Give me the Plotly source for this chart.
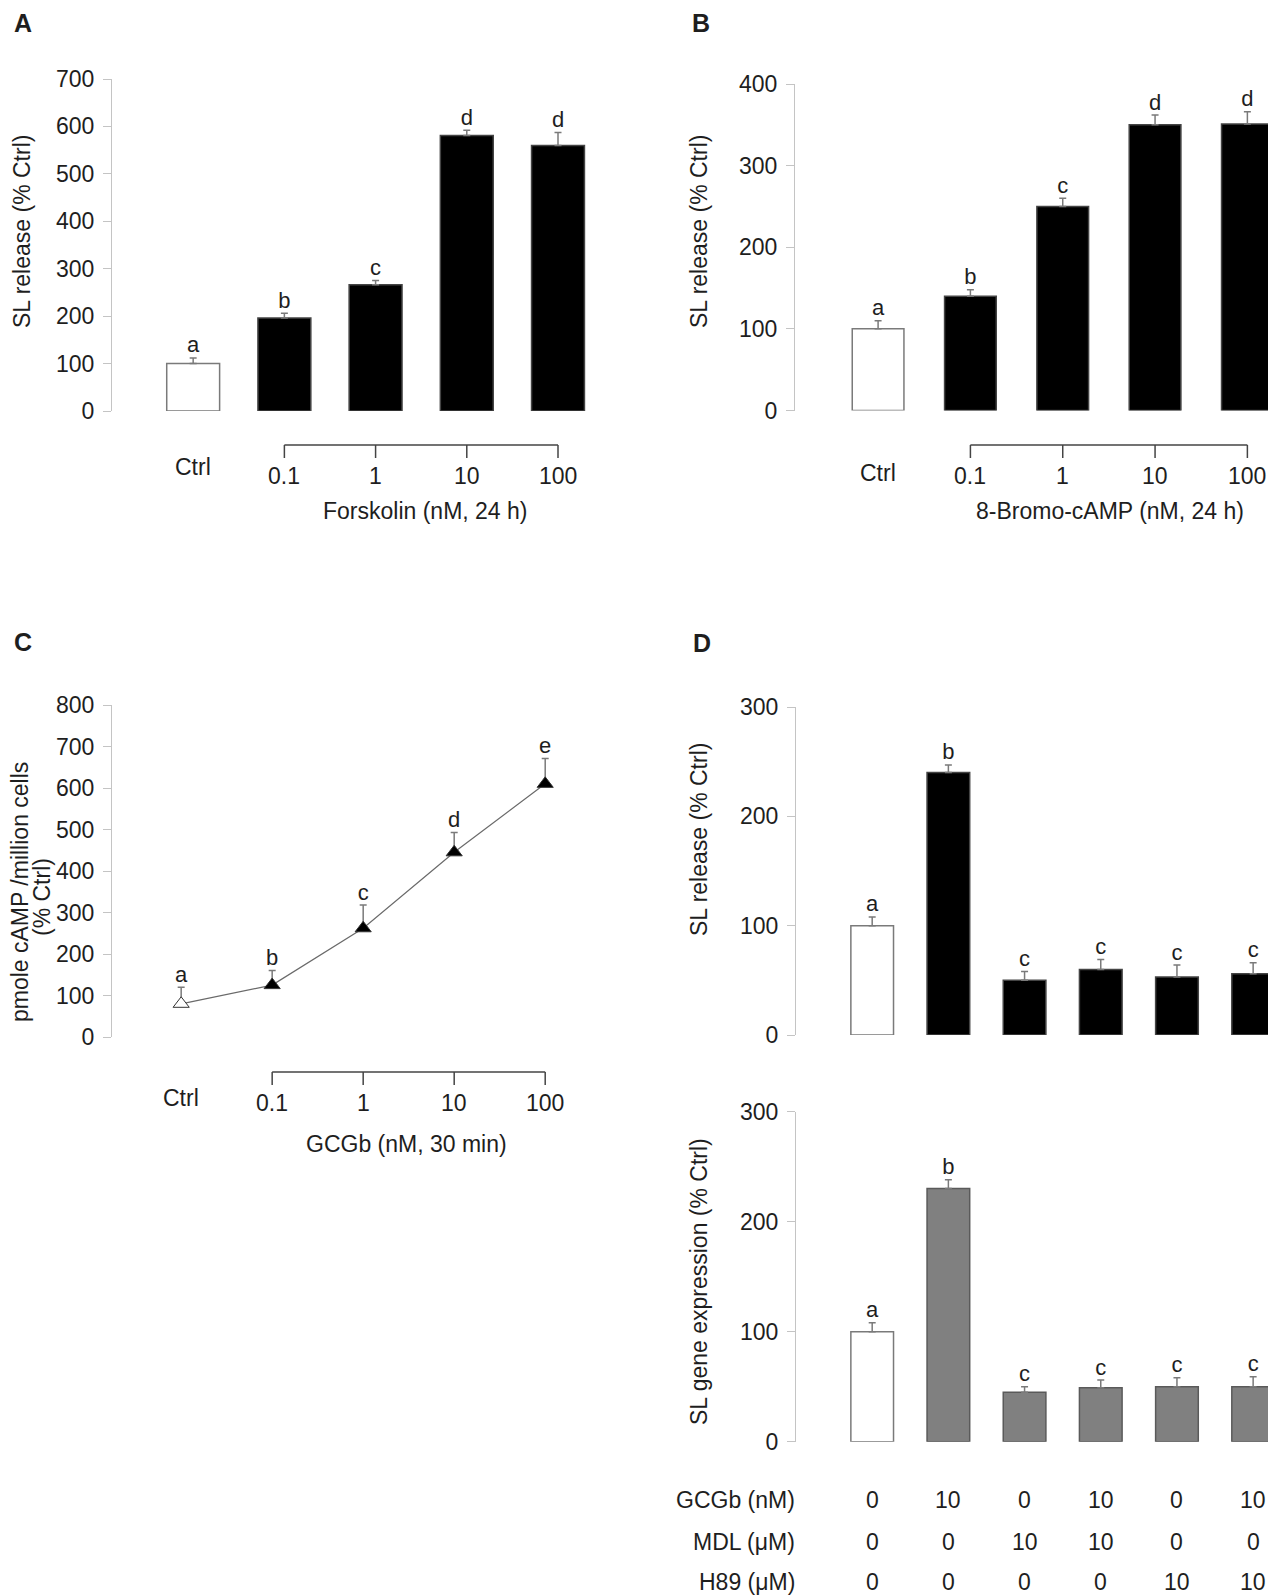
import plotly.graph_objects as go

# ---------------- data ----------------
# Panel A: forskolin
a_cats = ["Ctrl", "0.1", "1", "10", "100"]
a_vals = [100, 196, 266, 581, 560]
a_err = [12, 10, 9, 11, 27]
a_letters = ["a", "b", "c", "d", "d"]

# Panel B: 8-Bromo-cAMP
b_cats = ["Ctrl", "0.1", "1", "10", "100"]
b_vals = [100, 140, 250, 350, 351]
b_err = [10, 8, 10, 12, 15]
b_letters = ["a", "b", "c", "d", "d"]

# Panel C: cAMP vs GCGb
c_cats = ["Ctrl", "0.1", "1", "10", "100"]
c_vals = [80, 125, 262, 445, 610]
c_err = [40, 35, 56, 48, 61]
c_letters = ["a", "b", "c", "d", "e"]

# Panel D: treatments
gcgb = [0, 10, 0, 10, 0, 10]
mdl = [0, 0, 10, 10, 0, 0]
h89 = [0, 0, 0, 0, 10, 10]
d_cats = [f"{g}/{m}/{h}" for g, m, h in zip(gcgb, mdl, h89)]
d_rel_vals = [100, 240, 50, 60, 53, 56]
d_rel_err = [8, 7, 8, 9, 11, 10]
d_rel_letters = ["a", "b", "c", "c", "c", "c"]
d_exp_vals = [100, 230, 45, 49, 50, 50]
d_exp_err = [8, 8, 5, 7, 8, 9]
d_exp_letters = ["a", "b", "c", "c", "c", "c"]

W, H = 1276, 1595
OFF = 8  # page body margin
FONT = "Liberation Sans, Arial, sans-serif"
TXT = "#1e1e1e"
AXC = "#c4c4c4"
FS = 23


def px(x):
    return (x - OFF) / W


def py(y):
    return 1 - (y - OFF) / H


def yax(top, bottom, rng, dtick, anchor):
    return dict(domain=[py(bottom), py(top)], range=rng, dtick=dtick,
                showline=True, linecolor=AXC, linewidth=1.2,
                ticks="outside", ticklen=8, tickcolor=AXC, tickwidth=1.2,
                showgrid=False, zeroline=False, ticklabelstandoff=4,
                automargin=False, anchor=anchor,
                tickfont=dict(size=FS, color=TXT, family=FONT))


def xax(left, right, rng, anchor):
    return dict(domain=[px(left), px(right)], range=rng, type="category",
                showticklabels=False, showline=False, ticks="",
                showgrid=False, zeroline=False, automargin=False, anchor=anchor)


fig = go.Figure()


def add_bars(cats, vals, err, letters, colors, lines, xa, ya, width):
    fig.add_trace(go.Bar(
        x=cats, y=vals, xaxis=xa, yaxis=ya, width=width,
        marker=dict(color=colors, line=dict(color=lines, width=1.5)),
        error_y=dict(type="data", symmetric=False, array=err,
                     arrayminus=[0] * len(err), color="#7a7a7a",
                     thickness=1.5, width=3.5),
        showlegend=False))
    fig.add_trace(go.Scatter(
        x=cats, y=[v + e for v, e in zip(vals, err)], xaxis=xa, yaxis=ya,
        mode="text", text=letters, textposition="top center",
        textfont=dict(size=22, color=TXT, family=FONT), showlegend=False))


# A
add_bars(a_cats, a_vals, a_err, a_letters,
         ["white"] + ["black"] * 4, ["#7a7a7a"] + ["#444"] * 4, "x", "y", 0.58)
# B
add_bars(b_cats, b_vals, b_err, b_letters,
         ["white"] + ["black"] * 4, ["#7a7a7a"] + ["#444"] * 4, "x2", "y2", 0.56)
# C
fig.add_trace(go.Scatter(
    x=c_cats, y=c_vals, xaxis="x3", yaxis="y3", mode="lines+markers",
    line=dict(color="#6a6a6a", width=1.2),
    marker=dict(symbol="triangle-up", size=14,
                color=["white"] + ["black"] * 4,
                line=dict(color="#333", width=1)),
    error_y=dict(type="data", symmetric=False, array=c_err,
                 arrayminus=[0] * len(c_err), color="#7a7a7a",
                 thickness=1.5, width=3.5),
    showlegend=False))
fig.add_trace(go.Scatter(
    x=c_cats, y=[v + e for v, e in zip(c_vals, c_err)], xaxis="x3", yaxis="y3",
    mode="text", text=c_letters, textposition="top center",
    textfont=dict(size=22, color=TXT, family=FONT), showlegend=False))
# D top and bottom
add_bars(d_cats, d_rel_vals, d_rel_err, d_rel_letters,
         ["white"] + ["black"] * 5, ["#7a7a7a"] + ["#444"] * 5, "x4", "y4", 0.56)
add_bars(d_cats, d_exp_vals, d_exp_err, d_exp_letters,
         ["white"] + ["#808080"] * 5, ["#7a7a7a"] + ["#5a5a5a"] * 5, "x5", "y5", 0.56)

fig.update_layout(
    width=W, height=H, margin=dict(l=0, r=0, t=0, b=0, pad=0),
    paper_bgcolor="white", plot_bgcolor="white",
    font=dict(family=FONT, color=TXT),
    xaxis=xax(112, 603.6, [-0.89, 4.5], "y"),
    yaxis=yax(79, 411, [0, 700], 100, "x"),
    xaxis2=xax(795, 1276, [-0.9, 4.31], "y2"),
    yaxis2=yax(84, 410.5, [0, 400], 100, "x2"),
    xaxis3=xax(112, 581.6, [-0.76, 4.4], "y3"),
    yaxis3=yax(705, 1037, [0, 800], 100, "x3"),
    xaxis4=xax(796, 1276, [-1.0, 5.3], "y4"),
    yaxis4=yax(707, 1035, [0, 300], 100, "x4"),
    xaxis5=xax(796, 1276, [-1.0, 5.3], "y5"),
    yaxis5=yax(1111.5, 1441.7, [0, 300], 100, "x5"),
)

ann = []
shapes = []


def txt(x, y, t, xref="paper", size=FS, **kw):
    d = dict(x=x, y=y, xref=xref, yref="paper", text=t, showarrow=False,
             xanchor="center", yanchor="middle", font=dict(size=size, color=TXT))
    d.update(kw)
    ann.append(d)


def cat_axis(cats, xref, y_ctrl, y_lab, y_br, title, y_title, x_title):
    for i, c in enumerate(cats):
        txt(i, py(y_ctrl if i == 0 else y_lab), c, xref=xref)
    shapes.append(dict(type="line", xref=xref, yref="paper", x0=1, x1=len(cats) - 1,
                       y0=py(y_br), y1=py(y_br), line=dict(color="#444", width=1.5)))
    for i in range(1, len(cats)):
        shapes.append(dict(type="line", xref=xref, yref="paper", x0=i, x1=i,
                           y0=py(y_br), y1=py(y_br + 13), line=dict(color="#444", width=1.5)))
    txt(px(x_title), py(y_title), title)


cat_axis(a_cats, "x", 467, 476, 445, "Forskolin (nM, 24 h)", 511, 425)
cat_axis(b_cats, "x2", 473, 476, 445, "8-Bromo-cAMP (nM, 24 h)", 511, 1110)
cat_axis(c_cats, "x3", 1098, 1103, 1072, "GCGb (nM, 30 min)", 1144, 406)

# y titles
for x, y, t in [(22, 232, "SL release (% Ctrl)"),
                (699, 232, "SL release (% Ctrl)"),
                (20, 892, "pmole cAMP /million cells"),
                (42, 897, "(% Ctrl)"),
                (699, 840, "SL release (% Ctrl)"),
                (699, 1282, "SL gene expression (% Ctrl)")]:
    txt(px(x), py(y), t, textangle=-90)

# panel letters
for x, y, t in [(23, 23, "A"), (701, 23, "B"), (23, 642, "C"), (702, 643, "D")]:
    txt(px(x), py(y), f"<b>{t}</b>", size=25)

# treatment table under D
rows = [("GCGb (nM)", gcgb, 1500), ("MDL (μM)", mdl, 1542), ("H89 (μM)", h89, 1582)]
for label, vals, y in rows:
    txt(px(797), py(y), label, xanchor="right")
    for i, v in enumerate(vals):
        txt(i, py(y), str(v), xref="x5")

fig.update_layout(annotations=ann, shapes=shapes)
fig.write_html("out.html")
